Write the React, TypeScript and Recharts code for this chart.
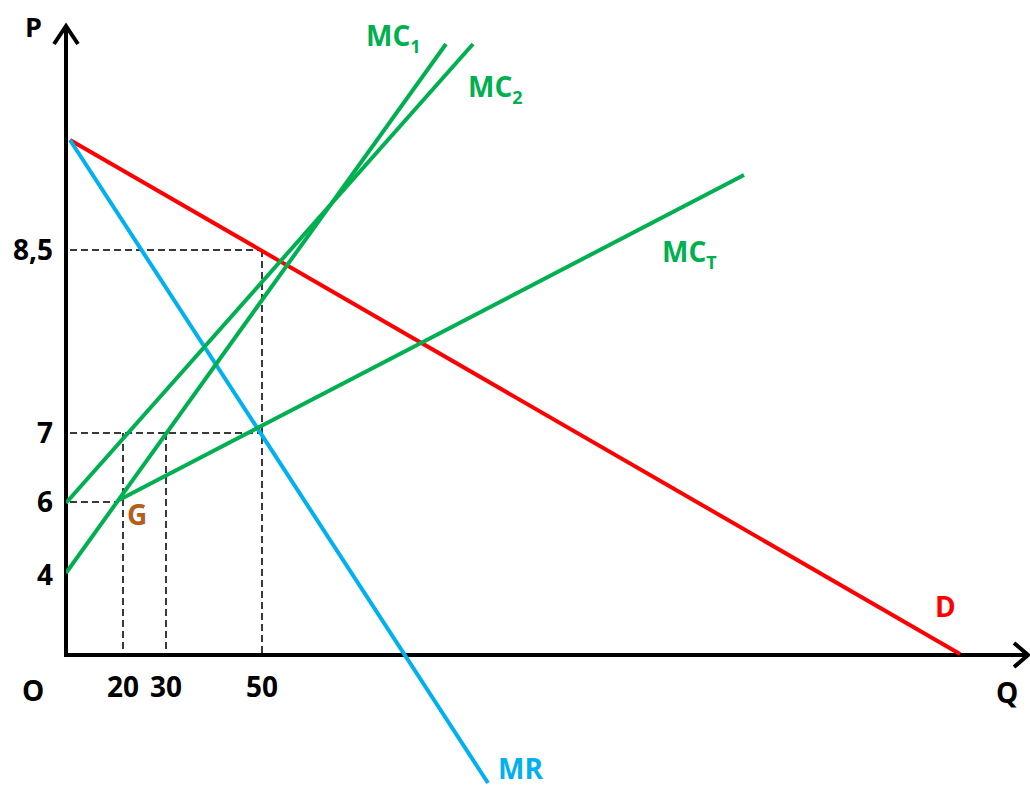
import { LineChart, Line, XAxis, YAxis, ReferenceLine, LabelList } from "recharts";

// Diagram units: q runs right from the origin O, p runs up from the Q axis.
const qTickValues = [57, 100, 196];
const qTickLabels = ["20", "30", "50"];
const pTickValues = [80, 153, 222, 405];
const pTickLabels = ["4", "6", "7", "8,5"];

const demand = [
  { q: 4, p: 515 },
  { q: 894, p: 1 },
];
const marginalRevenue = [
  { q: 4, p: 515 },
  { q: 422, p: -128 },
];
// the two cost curves cross near the top, so MC1 ends left of MC2
const mc1 = [
  { q: 0, p: 82 },
  { q: 380, p: 611 },
];
const mc2 = [
  { q: 0, p: 152 },
  { q: 407, p: 611 },
];
const mcTotal = [
  { q: 53, p: 155 },
  { q: 678, p: 480 },
];

const FONT = '"Open Sans", Lato, sans-serif';
const GREEN = "#00B050";
const RED = "#FF0000";
const BLUE = "#00B0F0";
const BROWN = "#B4601C";
const GUIDE = "#3A3A3A";

// text placed next to one point of a curve, with optional subscript
function pointLabel(
  text: string,
  sub: string,
  color: string,
  dx: number,
  dy: number,
  index: number
) {
  return (props: any) => {
    if (props.index !== index) return null;
    const x = props.viewBox?.x ?? props.x;
    const y = props.viewBox?.y ?? props.y;
    return (
      <text
        x={x + dx}
        y={y + dy}
        fill={color}
        fontFamily={FONT}
        fontWeight={700}
        fontSize={28}
      >
        {text}
        {sub && (
          <tspan fontSize={18} dy={7}>
            {sub}
          </tspan>
        )}
      </text>
    );
  };
}

function YAxisArrow(props: any) {
  const { x1, y1, x2, y2 } = props;
  const top = Math.min(y1, y2);
  const bottom = Math.max(y1, y2);
  return (
    <g>
      <line x1={x1} y1={bottom + 2} x2={x2} y2={top + 2} stroke="#000" strokeWidth={4} />
      <polyline
        points={`${x2 - 12},${top + 19} ${x2},${top + 1} ${x2 + 12},${top + 19}`}
        fill="none"
        stroke="#000"
        strokeWidth={4}
      />
      <text x={x2 - 41} y={top + 12} fontFamily={FONT} fontWeight={700} fontSize={27} fill="#000">
        P
      </text>
    </g>
  );
}

function XAxisArrow(props: any) {
  const { x1, y1, x2, y2 } = props;
  const left = Math.min(x1, x2);
  const right = Math.max(x1, x2);
  return (
    <g>
      <line x1={left - 2} y1={y1} x2={right - 1} y2={y2} stroke="#000" strokeWidth={4} />
      <polyline
        points={`${right - 14},${y2 - 12} ${right},${y2} ${right - 14},${y2 + 12}`}
        fill="none"
        stroke="#000"
        strokeWidth={4}
      />
      <text x={left - 44} y={y1 + 46} fontFamily={FONT} fontWeight={700} fontSize={28} fill="#000">
        O
      </text>
      <text x={right - 32} y={y2 + 48} fontFamily={FONT} fontWeight={700} fontSize={28} fill="#000">
        Q
      </text>
    </g>
  );
}

const tickLabel = (i: number) => ({
  value: qTickLabels[i],
  position: "bottom" as const,
  offset: 22,
  fill: "#000",
  fontFamily: FONT,
  fontWeight: 700,
  fontSize: 28,
});

export default function App() {
  const gQ = mcTotal[0].q;
  return (
    <div style={{ position: "absolute", left: 0, top: 0, background: "#fff" }}>
      <LineChart
        width={1030}
        height={788}
        margin={{ top: 20, right: 0, bottom: 0, left: 6 }}
      >
        <XAxis type="number" dataKey="q" domain={[0, 964]} hide allowDataOverflow />
        <YAxis
          type="number"
          dataKey="p"
          width={60}
          domain={[-133, 635]}
          allowDataOverflow
          ticks={pTickValues}
          interval={0}
          tickFormatter={(v: number) => pTickLabels[pTickValues.indexOf(v)]}
          axisLine={false}
          tickLine={false}
          tickMargin={7}
          tick={{ fill: "#000", fontFamily: FONT, fontWeight: 700, fontSize: 28 }}
        />

        {/* dashed guides */}
        <ReferenceLine
          segment={[{ x: 4, y: pTickValues[3] }, { x: qTickValues[2], y: pTickValues[3] }]}
          stroke={GUIDE}
          strokeWidth={2}
          strokeDasharray="7 4"
        />
        <ReferenceLine
          segment={[{ x: 4, y: pTickValues[2] }, { x: qTickValues[2], y: pTickValues[2] }]}
          stroke={GUIDE}
          strokeWidth={2}
          strokeDasharray="7 4"
        />
        <ReferenceLine
          segment={[{ x: 4, y: pTickValues[1] }, { x: gQ, y: pTickValues[1] }]}
          stroke={GUIDE}
          strokeWidth={2}
          strokeDasharray="7 4"
        />
        <ReferenceLine
          segment={[{ x: qTickValues[0], y: pTickValues[2] }, { x: qTickValues[0], y: 0 }]}
          stroke={GUIDE}
          strokeWidth={2}
          strokeDasharray="7 4"
          label={tickLabel(0)}
        />
        <ReferenceLine
          segment={[{ x: qTickValues[1], y: pTickValues[2] }, { x: qTickValues[1], y: 0 }]}
          stroke={GUIDE}
          strokeWidth={2}
          strokeDasharray="7 4"
          label={tickLabel(1)}
        />
        <ReferenceLine
          segment={[{ x: qTickValues[2], y: pTickValues[3] }, { x: qTickValues[2], y: 0 }]}
          stroke={GUIDE}
          strokeWidth={2}
          strokeDasharray="7 4"
          label={tickLabel(2)}
        />

        {/* axes with arrow heads */}
        <ReferenceLine segment={[{ x: 0, y: 0 }, { x: 0, y: 630 }]} shape={YAxisArrow} />
        <ReferenceLine segment={[{ x: 0, y: 0 }, { x: 962, y: 0 }]} shape={XAxisArrow} />

        <Line data={demand} dataKey="p" stroke={RED} strokeWidth={4} dot={false} isAnimationActive={false}>
          <LabelList dataKey="p" content={pointLabel("D", "", RED, -25, -37, 1)} />
        </Line>
        <Line data={marginalRevenue} dataKey="p" stroke={BLUE} strokeWidth={4} dot={false} isAnimationActive={false}>
          <LabelList dataKey="p" content={pointLabel("MR", "", BLUE, 10, -4, 1)} />
        </Line>
        <Line data={mc1} dataKey="p" stroke={GREEN} strokeWidth={4} dot={false} isAnimationActive={false}>
          <LabelList dataKey="p" content={pointLabel("MC", "1", GREEN, -80, 2, 1)} />
        </Line>
        <Line data={mc2} dataKey="p" stroke={GREEN} strokeWidth={4} dot={false} isAnimationActive={false}>
          <LabelList dataKey="p" content={pointLabel("MC", "2", GREEN, -5, 53, 1)} />
        </Line>
        <Line data={mcTotal} dataKey="p" stroke={GREEN} strokeWidth={4} dot={false} isAnimationActive={false}>
          <LabelList dataKey="p" content={pointLabel("MC", "T", GREEN, -82, 87, 1)} />
          <LabelList dataKey="p" content={pointLabel("G", "", BROWN, 8, 25, 0)} />
        </Line>
      </LineChart>
    </div>
  );
}
